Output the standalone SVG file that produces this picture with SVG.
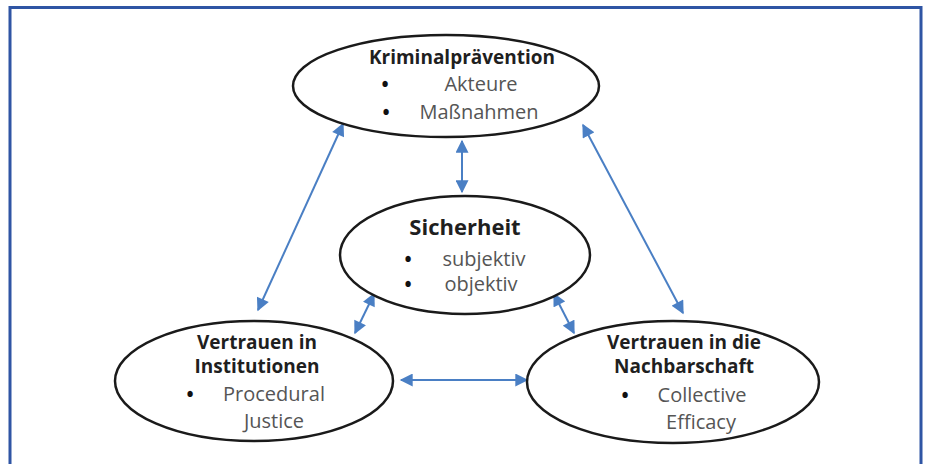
<svg xmlns="http://www.w3.org/2000/svg" width="928" height="464" viewBox="0 0 928 464">
<style>
.node ellipse{fill:#fff;stroke:#1a1a1a;stroke-width:2.5}
.t{font-family:"Open Sans","Noto Sans","Liberation Sans",sans-serif;text-anchor:middle}
.b{font-weight:bold;fill:#1f1f1f;font-size:19px}
.n{fill:#555;font-size:20px}
.d{fill:#111;font-size:19px;font-weight:bold}
.c line{stroke:#4a7fc4;stroke-width:2;marker-start:url(#ah);marker-end:url(#ah)}
</style>
<defs>
<marker id="ah" viewBox="0 0 10 10" refX="9" refY="5" markerWidth="7" markerHeight="6.5" orient="auto-start-reverse" markerUnits="strokeWidth">
<path d="M0,0 L10,5 L0,10 z" fill="#4a7fc4"/>
</marker>
</defs>
<rect x="0" y="0" width="928" height="464" fill="#fff"/>
<path d="M10,470 V7.5 H921 V470" fill="none" stroke="#2f55a4" stroke-width="3"/>
<g class="c">
<line x1="343" y1="124" x2="258" y2="310"/>
<line x1="462" y1="141" x2="462" y2="192"/>
<line x1="583" y1="125" x2="683" y2="313"/>
<line x1="374" y1="294" x2="355" y2="333"/>
<line x1="554" y1="294" x2="574" y2="333"/>
<line x1="401" y1="380" x2="527" y2="380"/>
</g>
<g id="kriminalpraevention" class="node">
<ellipse cx="446" cy="86" rx="153" ry="51"/>
<text class="t b" x="462" y="64">Kriminalprävention</text>
<text class="t d" x="385" y="91">•</text>
<text class="t n" x="481" y="91">Akteure</text>
<text class="t d" x="386" y="119">•</text>
<text class="t n" x="479" y="119">Maßnahmen</text>
</g>
<g id="sicherheit" class="node">
<ellipse cx="465" cy="255" rx="125" ry="59"/>
<text class="t b" x="465" y="235" style="font-size:22px">Sicherheit</text>
<text class="t d" x="408" y="266">•</text>
<text class="t n" x="484" y="266">subjektiv</text>
<text class="t d" x="408" y="291">•</text>
<text class="t n" x="481" y="291">objektiv</text>
</g>
<g id="institutionen" class="node">
<ellipse cx="254" cy="381" rx="139" ry="60"/>
<text class="t b" x="257" y="349">Vertrauen in</text>
<text class="t b" x="257" y="373">Institutionen</text>
<text class="t d" x="190" y="401">•</text>
<text class="t n" x="274" y="401">Procedural</text>
<text class="t n" x="274" y="428">Justice</text>
</g>
<g id="nachbarschaft" class="node">
<ellipse cx="673" cy="382" rx="146" ry="61"/>
<text class="t b" x="684" y="349">Vertrauen in die</text>
<text class="t b" x="684" y="373">Nachbarschaft</text>
<text class="t d" x="625" y="402">•</text>
<text class="t n" x="702" y="402">Collective</text>
<text class="t n" x="701" y="429">Efficacy</text>
</g>
</svg>
